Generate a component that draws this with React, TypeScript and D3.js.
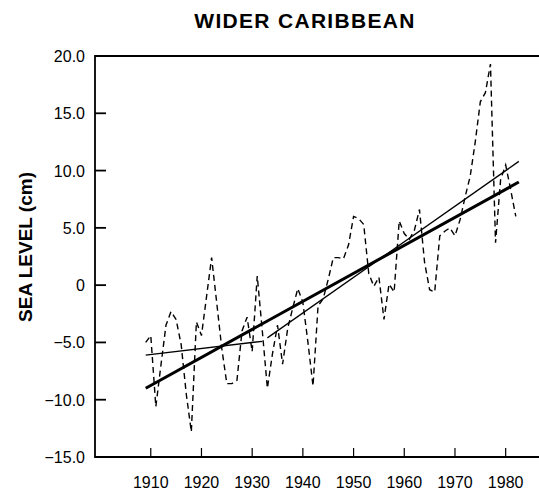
import React, { useRef, useEffect } from "react";
import * as d3 from "d3";

// annual mean sea level, wider Caribbean (cm)
const years = d3.range(1909, 1983);
const seaLevel = [
  -5.0, -4.4, -10.6, -7.0, -3.5, -2.3, -3.0, -5.2, -9.5, -12.8,
  -3.2, -4.4, -1.0, 2.4, -1.5, -5.5, -8.6, -8.6, -8.3, -4.0,
  -2.8, -5.8, 0.8, -4.0, -9.0, -6.0, -3.5, -6.9, -3.8, -2.0,
  -0.3, -1.5, -5.0, -8.8, -1.8, -1.2, 0.5, 2.4, 2.4, 2.3,
  3.5, 6.0, 5.8, 5.3, 1.0, -0.1, 0.7, -3.0, 0.1, -0.6,
  5.6, 4.5, 4.0, 4.8, 6.6, 2.0, -0.4, -0.6, 4.3, 4.7,
  5.0, 4.3, 5.7, 7.7, 9.5, 12.5, 16.0, 16.8, 19.3, 3.7,
  9.2, 10.5, 8.3, 6.0,
];

// fitted trend lines: [year, cm]
const trendAll = [[1909, -9.0], [1982.6, 9.0]];
const trendEarly = [[1909, -6.1], [1932, -4.9]];
const trendLate = [[1933, -4.6], [1982.6, 10.8]];

const yTicks = [-15, -10, -5, 0, 5, 10, 15, 20];
const xTicks = [1910, 1920, 1930, 1940, 1950, 1960, 1970, 1980];

const WIDTH = 539;
const HEIGHT = 493;

const App = () => {
  const chartRef = useRef(null);

  useEffect(() => {
    const svg = d3.select(chartRef.current);
    svg.selectAll("*").remove();

    const font = "'Liberation Sans', Arial, Helvetica, sans-serif";
    const left = 95;
    const top = 56;
    const bottom = 457;

    const x = d3.scaleLinear().domain([1899, 1990]).range([left, left + 91 * 5.07]);
    const y = d3.scaleLinear().domain([-15, 20]).range([bottom, top]);

    svg
      .append("text")
      .attr("x", 305)
      .attr("y", 28)
      .attr("text-anchor", "middle")
      .style("font-family", font)
      .style("font-weight", "bold")
      .style("font-size", "21px")
      .style("letter-spacing", "1.3px")
      .text("WIDER CARIBBEAN");

    svg
      .append("text")
      .attr("transform", `translate(32, 247) rotate(-90)`)
      .attr("text-anchor", "middle")
      .style("font-family", font)
      .style("font-weight", "bold")
      .style("font-size", "19px")
      .text("SEA LEVEL (cm)");

    // frame (right side runs past the page edge)
    svg
      .append("path")
      .attr("d", `M${x.range()[1]},${top}H${left}V${bottom}H${x.range()[1]}`)
      .attr("fill", "none")
      .attr("stroke", "#000")
      .attr("stroke-width", 1.8);

    const yAxis = svg.append("g");
    yAxis
      .selectAll("line")
      .data(yTicks)
      .enter()
      .append("line")
      .attr("x1", left)
      .attr("x2", left + 11)
      .attr("y1", (d) => y(d))
      .attr("y2", (d) => y(d))
      .attr("stroke", "#000")
      .attr("stroke-width", 1.8);
    yAxis
      .selectAll("text")
      .data(yTicks)
      .enter()
      .append("text")
      .attr("x", 85)
      .attr("y", (d) => y(d) + 6)
      .attr("text-anchor", "end")
      .style("font-family", font)
      .style("font-size", "16px")
      .text((d) => (d === 0 ? "0" : d3.format(".1f")(d)));

    const xAxis = svg.append("g");
    xAxis
      .selectAll("line")
      .data(xTicks)
      .enter()
      .append("line")
      .attr("x1", (d) => x(d))
      .attr("x2", (d) => x(d))
      .attr("y1", bottom)
      .attr("y2", bottom - 9)
      .attr("stroke", "#000")
      .attr("stroke-width", 1.2);
    xAxis
      .selectAll("text")
      .data(xTicks)
      .enter()
      .append("text")
      .attr("x", (d) => x(d))
      .attr("y", 488)
      .attr("text-anchor", "middle")
      .style("font-family", font)
      .style("font-size", "16px")
      .text((d) => d);

    const line = d3
      .line()
      .x((d) => x(d[0]))
      .y((d) => y(d[1]));

    svg
      .append("path")
      .datum(years.map((yr, i) => [yr, seaLevel[i]]))
      .attr("d", line)
      .attr("fill", "none")
      .attr("stroke", "#000")
      .attr("stroke-width", 1.4)
      .attr("stroke-dasharray", "6,4");

    svg
      .append("path")
      .datum(trendAll)
      .attr("d", line)
      .attr("fill", "none")
      .attr("stroke", "#000")
      .attr("stroke-width", 3);

    [trendEarly, trendLate].forEach((t) => {
      svg
        .append("path")
        .datum(t)
        .attr("d", line)
        .attr("fill", "none")
        .attr("stroke", "#000")
        .attr("stroke-width", 1.3);
    });
  }, []);

  return (
    <svg
      ref={chartRef}
      width={WIDTH}
      height={HEIGHT}
      style={{ position: "absolute", left: 0, top: 0, background: "#fff" }}
    />
  );
};

export default App;
